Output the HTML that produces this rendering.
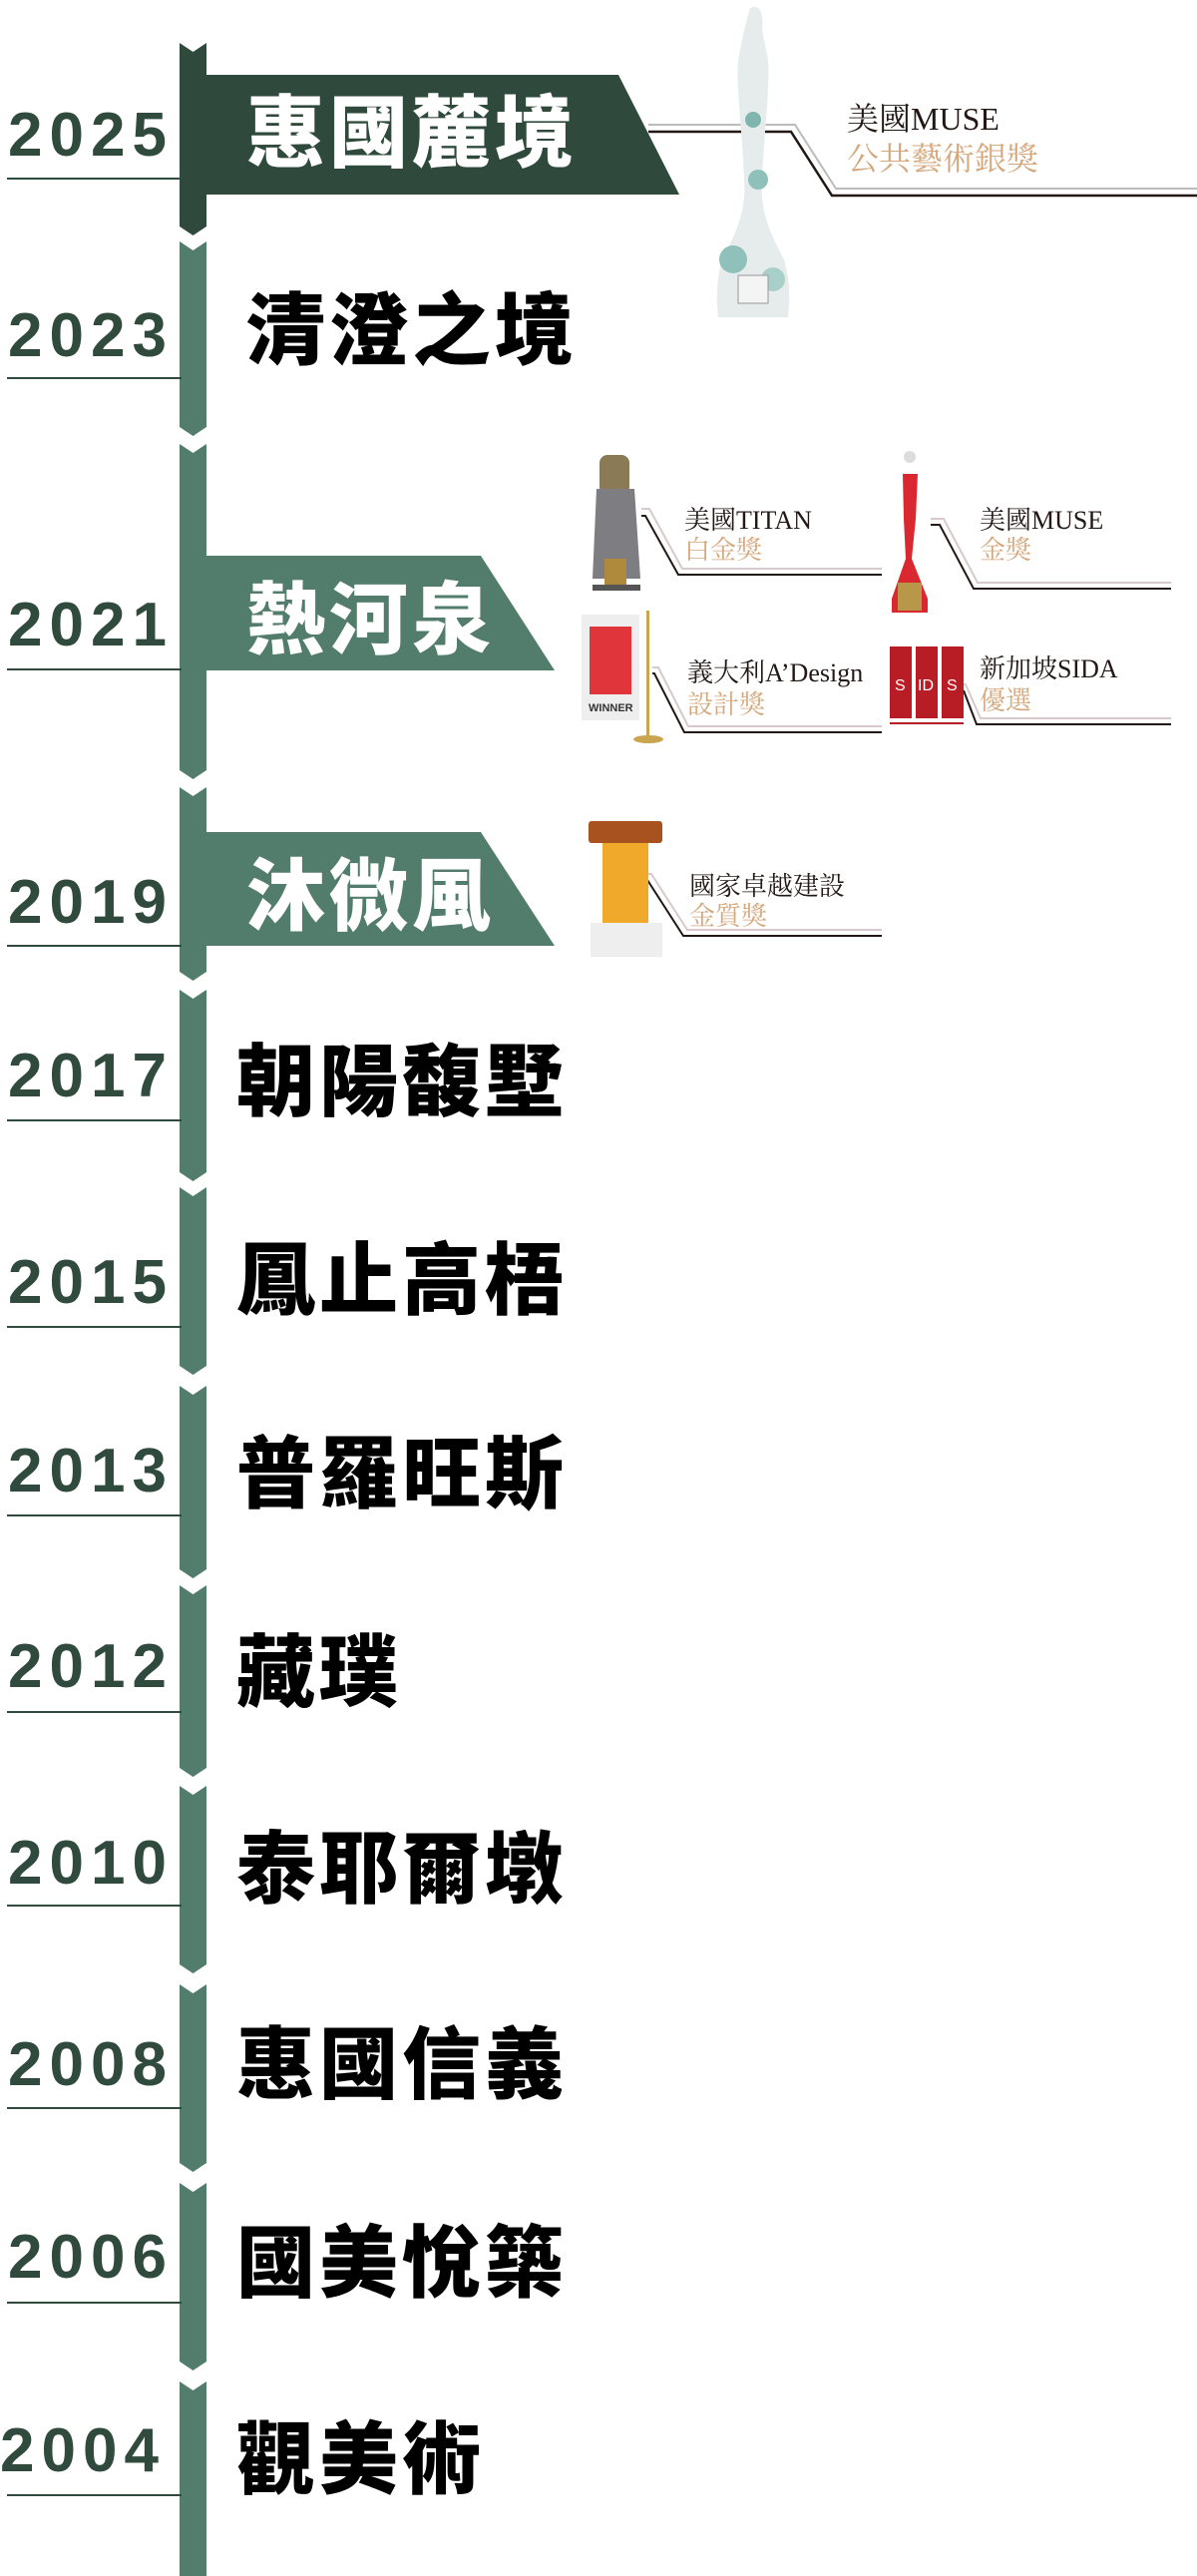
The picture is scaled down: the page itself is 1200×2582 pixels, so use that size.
<!DOCTYPE html>
<html><head><meta charset="utf-8"><style>
html,body{margin:0;padding:0;background:#fff;}
svg{display:block;}
.yr{font-family:"Liberation Sans","Noto Sans CJK TC",sans-serif;font-weight:bold;font-size:62px;fill:#314a3e;letter-spacing:7px;}
.nm{font-family:"Liberation Sans","Noto Sans CJK TC",sans-serif;font-weight:900;font-size:79px;letter-spacing:4px;fill:#000;}
.wt{fill:#fff;}
.at{font-family:"Liberation Serif","Noto Serif CJK SC",serif;font-size:26px;fill:#231815;}
.as{font-family:"Liberation Serif","Noto Serif CJK SC",serif;font-size:26px;fill:#d4a77c;}
</style></head><body>
<svg width="1200" height="2582" viewBox="0 0 1200 2582" xmlns="http://www.w3.org/2000/svg">
<polygon points="180,43 193.5,52 207,43 207,227 193.5,236 180,227" fill="#2f4a3d"/>
<g fill="#527c6b">
<polygon points="180,242 193.5,251 207,242 207,428 193.5,437 180,428"/>
<polygon points="180,445 193.5,454 207,445 207,772 193.5,781 180,772"/>
<polygon points="180,789 193.5,798 207,789 207,974 193.5,983 180,974"/>
<polygon points="180,992 193.5,1001 207,992 207,1175 193.5,1184 180,1175"/>
<polygon points="180,1190 193.5,1199 207,1190 207,1369 193.5,1378 180,1369"/>
<polygon points="180,1389 193.5,1398 207,1389 207,1573 193.5,1582 180,1573"/>
<polygon points="180,1589 193.5,1598 207,1589 207,1772 193.5,1781 180,1772"/>
<polygon points="180,1790 193.5,1799 207,1790 207,1969 193.5,1978 180,1969"/>
<polygon points="180,1989 193.5,1998 207,1989 207,2168 193.5,2177 180,2168"/>
<polygon points="180,2188 193.5,2197 207,2188 207,2367 193.5,2376 180,2367"/>
<polygon points="180,2387 193.5,2396 207,2387 207,2582 180,2582"/>
</g>
<polygon points="207,75 620,75 681,195 207,195" fill="#2f4a3d"/>
<polygon points="207,557 482,557 556,672 207,672" fill="#527c6b"/>
<polygon points="207,834 482,834 556,948 207,948" fill="#527c6b"/>
<g stroke="#314a3e" stroke-width="2">
<line x1="7" y1="179" x2="182" y2="179"/><line x1="7" y1="379" x2="182" y2="379"/>
<line x1="7" y1="671" x2="182" y2="671"/><line x1="7" y1="948" x2="182" y2="948"/>
<line x1="7" y1="1123" x2="182" y2="1123"/><line x1="7" y1="1330" x2="182" y2="1330"/>
<line x1="7" y1="1519" x2="182" y2="1519"/><line x1="7" y1="1716" x2="182" y2="1716"/>
<line x1="7" y1="1910" x2="182" y2="1910"/><line x1="7" y1="2113" x2="182" y2="2113"/>
<line x1="7" y1="2308" x2="182" y2="2308"/><line x1="7" y1="2501" x2="182" y2="2501"/>
</g>
<g class="yr">
<text x="8" y="156">2025</text><text x="8" y="357">2023</text>
<text x="8" y="647">2021</text><text x="8" y="925">2019</text>
<text x="8" y="1099">2017</text><text x="8" y="1306">2015</text>
<text x="8" y="1495">2013</text><text x="8" y="1691">2012</text>
<text x="8" y="1888">2010</text><text x="8" y="2090">2008</text>
<text x="8" y="2283">2006</text><text x="0" y="2477">2004</text>
</g>
<g class="nm">
<text x="247" y="161" class="wt">惠國麓境</text>
<text x="247" y="359">清澄之境</text>
<text x="247" y="649" class="wt">熱河泉</text>
<text x="247" y="926" class="wt">沐微風</text>
<text x="237" y="1112">朝陽馥墅</text>
<text x="237" y="1311">鳳止高梧</text>
<text x="237" y="1505">普羅旺斯</text>
<text x="237" y="1704">藏璞</text>
<text x="237" y="1901">泰耶爾墩</text>
<text x="237" y="2097">惠國信義</text>
<text x="237" y="2296">國美悅築</text>
<text x="237" y="2493">觀美術</text>
</g>
<g fill="none" stroke-width="2">
<polyline points="650,125 797,125 838,189 1200,189" stroke="#bbb"/>
<polyline points="650,132 793,132 834,196 1200,196" stroke="#231815" stroke-width="2.5"/>
<polyline points="643,510 651,510 684,570 884,570" stroke="#d9c9cc"/>
<polyline points="643,517 647,517 680,576 884,576" stroke="#231815"/>
<polyline points="933,520 946,520 980,584 1174,584" stroke="#d9c9cc"/>
<polyline points="933,526 942,526 976,590 1174,590" stroke="#231815"/>
<polyline points="654,669 660,669 690,728 884,728" stroke="#d9c9cc"/>
<polyline points="654,675 656,675 686,734 884,734" stroke="#231815"/>
<polyline points="966,686 968,686 983,720 1174,720" stroke="#d9c9cc"/>
<polyline points="966,692 966,692 979,726 1174,726" stroke="#231815"/>
<polyline points="647,876 653,876 689,932 884,932" stroke="#d9c9cc"/>
<polyline points="647,882 649,882 685,938 884,938" stroke="#231815"/>
</g>
<g>
<path d="M752,8 C760,4 766,10 764,30 L770,60 C772,90 766,130 764,180 C762,210 770,230 786,260 C792,280 792,300 790,318 L720,318 C718,300 718,280 724,260 C740,230 748,210 746,180 C744,130 738,90 740,60 L746,30 Z" fill="#e6ecec"/>
<circle cx="755" cy="120" r="8" fill="#7fb5ae"/><circle cx="760" cy="180" r="10" fill="#8fc1ba"/>
<circle cx="735" cy="260" r="14" fill="#8fc1ba"/><circle cx="775" cy="280" r="12" fill="#a9cfca"/>
<rect x="740" y="276" width="30" height="28" fill="#f4f4f4" stroke="#999" stroke-width="1"/>
</g>
<text class="at" x="849" y="130" style="font-size:32px">美國MUSE</text>
<text class="as" x="849" y="170" style="font-size:32px">公共藝術銀獎</text>
<g>
<rect x="601" y="456" width="30" height="40" rx="8" fill="#8a7a55"/>
<path d="M598,490 L636,490 L642,580 L594,580 Z" fill="#7d7d82"/>
<rect x="606" y="560" width="22" height="32" fill="#b08a3c"/>
<rect x="594" y="586" width="48" height="6" fill="#555"/>
</g>
<text class="at" x="686" y="530">美國TITAN</text>
<text class="as" x="686" y="560">白金獎</text>
<g>
<circle cx="912" cy="458" r="6" fill="#ddd"/>
<path d="M905,475 L920,475 L918,520 L914,560 L930,600 L930,614 L894,614 L894,600 L908,560 L906,520 Z" fill="#d9282f"/>
<rect x="900" y="584" width="24" height="28" fill="#b8964a"/>
</g>
<text class="at" x="982" y="530">美國MUSE</text>
<text class="as" x="982" y="560">金獎</text>
<g>
<rect x="583" y="616" width="58" height="106" fill="#eeeeee"/>
<rect x="591" y="628" width="42" height="68" fill="#e0353b"/>
<text x="590" y="713" font-family="Liberation Sans,sans-serif" font-weight="bold" font-size="11" fill="#333">WINNER</text>
<rect x="648" y="612" width="3" height="128" fill="#c9a550"/>
<ellipse cx="650" cy="741" rx="15" ry="4" fill="#c9a550"/>
</g>
<text class="at" x="689" y="683">義大利A’Design</text>
<text class="as" x="689" y="715">設計獎</text>
<g>
<rect x="892" y="648" width="22" height="72" fill="#b81c24"/>
<rect x="918" y="648" width="22" height="72" fill="#b81c24"/>
<rect x="944" y="648" width="22" height="72" fill="#b81c24"/>
<g font-family="Liberation Sans,sans-serif" font-size="16" fill="#fff"><text x="897" y="692">S</text><text x="920" y="692">ID</text><text x="949" y="692">S</text></g>
<rect x="892" y="724" width="74" height="2" fill="#b81c24"/>
</g>
<text class="at" x="982" y="679">新加坡SIDA</text>
<text class="as" x="982" y="711">優選</text>
<g>
<rect x="590" y="823" width="74" height="22" rx="3" fill="#a8531f"/>
<rect x="604" y="845" width="46" height="80" fill="#f0a92b"/>
<rect x="592" y="925" width="72" height="34" fill="#eeeeee"/>
</g>
<text class="at" x="691" y="897">國家卓越建設</text>
<text class="as" x="691" y="927">金質獎</text>
</svg>
</body></html>
